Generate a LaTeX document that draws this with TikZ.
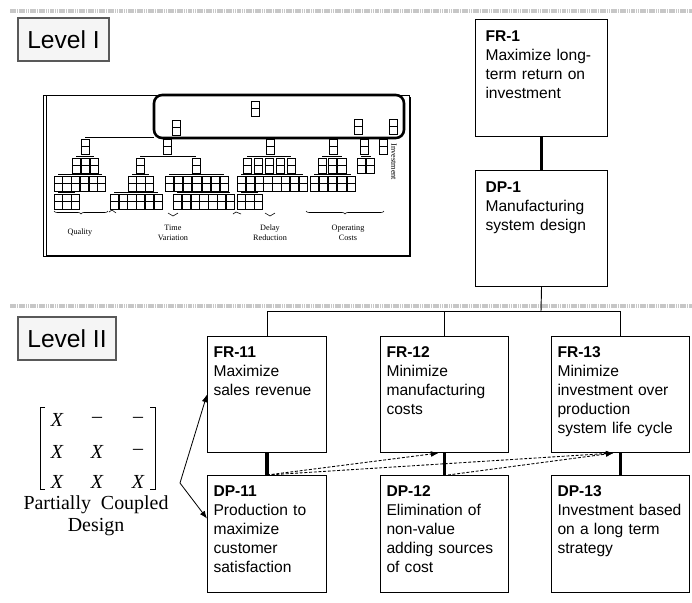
\documentclass[tikz,border=0pt]{standalone}
\usepackage{fontspec}
\setmainfont{Liberation Serif}
\setsansfont{Liberation Sans}
\usetikzlibrary{decorations.pathreplacing,arrows.meta}

% one small FR/DP cell of the thumbnail tree (left edge, top edge)
\newcommand{\tcell}[2]{\draw (#1,#2) rectangle ++(8.2,15) (#1,#2+7.5) -- ++(8.2,0);}
% a row of cells: left edge, top edge, count, pitch
\newcommand{\trow}[4]{%
  \foreach \k in {1,...,#3} {\tcell{#1+\k*#4-#4}{#2}}
  \draw (#1+4,#2-2) -- ++(#3*#4-#4,0);}

\begin{document}
\begin{tikzpicture}[x=0.03cm, y=-0.03cm,
  fdbox/.style={draw, line width=0.9pt, anchor=north west, align=left,
    inner ysep=0pt, font={\sffamily\fontsize{13.3}{16.2}\selectfont}},
  boxI/.style={fdbox, inner xsep=0.3cm, text width=3.36cm, text height=0.66cm},
  boxII/.style={fdbox, inner xsep=0.18cm, text height=0.63cm},
  lvbox/.style={draw=black!65, fill=black!4, line width=0.9pt, inner sep=0pt,
    font={\sffamily\fontsize{21}{24}\selectfont}},
  link/.style={line width=3.3pt},
  bus/.style={line width=0.8pt},
  tip/.style={-{Latex[length=6.5pt, width=5pt]}},
  coup/.style={tip, dash pattern=on 2.5pt off 1.5pt, line width=0.75pt},
  band/.style={line width=2.8pt, black!22, dash pattern=on 1.4pt off 0.5pt},
  dsm/.style={font={\fontsize{17}{20}\selectfont\itshape}, inner sep=0pt},
  tiny/.style={font={\fontsize{7}{8.5}\selectfont}, inner sep=0pt, align=center}]
\useasboundingbox (0,0) rectangle (692,602);

% grey separators
\draw[band] (10,11) -- (692,11);
\draw[band] (10,306) -- (692,306);

% level labels
\node[lvbox, minimum width=2.73cm, minimum height=1.29cm] (lv1) at (63.5,39.5) {Level I};
\node[lvbox, minimum width=2.94cm, minimum height=1.29cm] (lv2) at (67,338.5) {Level II};

% thumbnail of the full hierarchy
\begin{scope}[line width=0.5pt]
  \draw[line width=0.6pt] (43,95) rectangle (409,256);
  \draw (46,95) -- (46,256);
  \draw[line width=2.4pt] (46,256) -- (410,256) -- (410,97);
  \draw[line width=2.2pt, rounded corners=7] (154,95) rectangle (404,138);
  \tcell{251}{101} \tcell{172}{120} \tcell{354}{119} \tcell{389}{119}
  \draw (85,137) -- (154,137);
  \tcell{81}{139} \tcell{163}{139} \tcell{266}{139}
  \tcell{329}{139} \tcell{360}{139} \tcell{379}{139}
  % first row
  \trow{72}{158}{3}{9}
  \tcell{136}{158} \tcell{192}{158} \draw (140,156) -- (196,156);
  \trow{243}{158}{5}{11}
  \trow{318}{158}{3}{9.8}
  \trow{357}{158}{2}{9.5}
  % second row
  \trow{54}{176}{6}{8.7}
  \trow{128}{176}{3}{8.6}
  \trow{165}{176}{7}{9.2}
  \trow{237}{176}{8}{8.9}
  \trow{310}{176}{5}{9.2}
  % third row
  \trow{54}{194}{3}{8.7}
  \trow{110}{194}{6}{8.8}
  \trow{173}{194}{7}{8.9}
  \trow{237}{194}{3}{8.7}
  % braces
  \draw[decorate, decoration={brace, mirror, amplitude=2.5pt}] (54,211) -- (108,211);
  \draw (109,212) -- (112,210) -- (116,213);
  \draw (168,213) -- (173,216) -- (178,213);
  \draw (233,214) -- (236,212) -- (241,214);
  \draw (265,213) -- (270,216) -- (275,213);
  \draw[decorate, decoration={brace, mirror, amplitude=2.5pt}] (306,211) -- (384,211);
\end{scope}
\node[tiny] (qual) at (80,233) {Quality};
\node[tiny] (tvar) at (173,233) {Time\\Variation};
\node[tiny] (dred) at (270,233) {Delay\\Reduction};
\node[tiny] (opc) at (348,233) {Operating\\Costs};
\node[tiny, rotate=-90] (inv) at (394,162) {Investment};

% level I
\node[boxI, text depth=2.85cm] (FR1) at (475,19)
  {\textbf{FR-1}\\Maximize long-\\term return on\\investment};
\node[boxI, text depth=2.82cm] (DP1) at (475,170)
  {\textbf{DP-1}\\Manufacturing\\system design};
\draw[link] (FR1.south) -- (DP1.north);

% level II
\node[boxII, text width=3.21cm, text depth=2.85cm] (FR11) at (207,336)
  {\textbf{FR-11}\\Maximize\\sales revenue};
\node[boxII, text width=3.48cm, text depth=2.85cm] (FR12) at (380,336)
  {\textbf{FR-12}\\Minimize\\manufacturing\\costs};
\node[boxII, text width=3.78cm, text depth=2.85cm] (FR13) at (551,336)
  {\textbf{FR-13}\\Minimize\\investment over\\production\\system life cycle};
\node[boxII, text width=3.21cm, text depth=2.88cm] (DP11) at (207,475)
  {\textbf{DP-11}\\Production to\\maximize\\customer\\satisfaction};
\node[boxII, text width=3.48cm, text depth=2.88cm] (DP12) at (380,475)
  {\textbf{DP-12}\\Elimination of\\non-value\\adding sources\\of cost};
\node[boxII, text width=3.78cm, text depth=2.88cm] (DP13) at (551,475)
  {\textbf{DP-13}\\Investment based\\on a long term\\strategy};

\coordinate (bus) at (541,311);
\draw[bus] (DP1.south) -- (bus);
\draw[bus] (FR11.north) |- (FR13.north |- bus) -- (FR13.north);
\draw[bus] (FR12.north) -- (FR12.north |- bus);
\foreach \c in {11,12,13}
  \draw[link] (FR\c.south) -- (DP\c.north);

% off-diagonal couplings
\draw[coup] (DP11.north) -- ([xshift=-0.18cm]FR12.south);
\draw[coup] (DP11.north) -- ([xshift=-0.21cm]FR13.south);
\draw[coup] ([xshift=0.1cm]DP12.north) -- ([xshift=-0.21cm]FR13.south);

% design matrix
\foreach \ya/\ea/\eb/\ec [count=\r] in {420/X/\textendash/\textendash,
    452/X/X/\textendash, 482/X/X/X} {
  \node[dsm] (m\r a) at (57,\ya) {\ea};
  \node[dsm] (m\r b) at (97,\ya) {\eb};
  \node[dsm] (m\r c) at (138,\ya) {\ec};
}
\draw[line width=0.6pt] (45,407) -- (40,407) -- (40,489) -- (45,489);
\draw[line width=0.6pt] (150,407) -- (155,407) -- (155,489) -- (150,489);
\node[align=center, inner sep=0pt, font={\fontsize{17}{18.8}\selectfont}] (dsmcap)
  at (96,516) {Partially\ \ Coupled\\Design};

\coordinate (fork) at (180,483);
\draw[line width=0.7pt, tip] (fork) -- (FR11.west);
\draw[line width=0.7pt, tip] (fork) -- ([yshift=0.465cm]DP11.west);
\end{tikzpicture}
\end{document}
